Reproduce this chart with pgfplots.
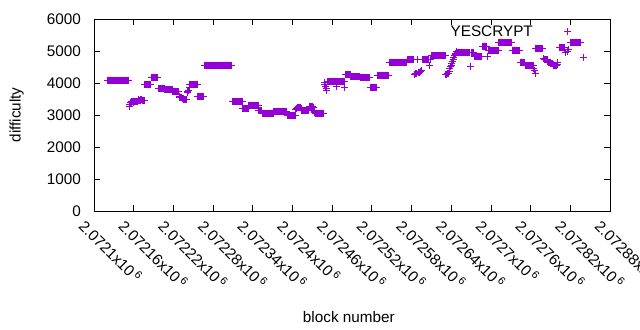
\documentclass[border=0pt]{standalone}
\usepackage{pgfplots}
\pgfplotsset{compat=1.18}
\usepackage{fontspec}
\setmainfont{Liberation Sans}
\definecolor{gpviolet}{RGB}{148,0,211}
\newcommand{\xl}[1]{#1x10\,\textsuperscript{6}}
\begin{document}
\begin{tikzpicture}[font=\fontsize{15.3bp}{18bp}\selectfont]
\begin{axis}[
  scale only axis, width=516bp, height=192bp,
  xmin=100, xmax=880, ymin=0, ymax=6000,
  axis line style={line width=0.8bp},
  tick style={line width=0.8bp, black},
  tick align=inside, tick pos=both, major tick length=6bp,
  xtick={100,160,...,880},
  xticklabels={\xl{2.0721},\xl{2.07216},\xl{2.07222},\xl{2.07228},\xl{2.07234},\xl{2.0724},\xl{2.07246},\xl{2.07252},\xl{2.07258},\xl{2.07264},\xl{2.0727},\xl{2.07276},\xl{2.07282},\xl{2.07288}},
  xticklabel style={rotate=-45, anchor=north west, inner sep=0pt, yshift=-10bp},
  ytick={0,1000,...,6000},
  yticklabels={0,1000,2000,3000,4000,5000,6000},
  yticklabel style={anchor=east, inner sep=0pt, xshift=-13bp},
  xlabel={block number},
  xlabel style={at={(axis description cs:0.494,-0.5505)}, anchor=center},
  ylabel={difficulty},
  ylabel style={at={(axis description cs:-0.1498,0.5)}, anchor=center},
  legend plot pos=right,
  legend style={at={(axis description cs:0.9254,0.9323)}, anchor=east, draw=none, fill=none, inner sep=0pt},
  legend image code/.code={\path[draw=none,fill=none] (0bp,-3.5bp) rectangle (36.5bp,3.5bp); \draw[#1] plot coordinates {(32.5bp,0bp)};},
]
\addplot[only marks, gpviolet, mark=+, mark size=3.5bp, mark options={line width=1bp}] coordinates {
(120,4090) (121,4090) (122,4090) (123,4090) (124,4090) (125,4090) (126,4090) (127,4090) (128,4090) (129,4090)
(130,4090) (131,4090) (132,4090) (133,4090) (134,4090) (135,4090) (136,4090) (137,4090) (138,4090) (139,4090)
(140,4090) (141,4090) (142,4090) (143,4090) (144,4090) (145,4090) (146,4090) (147,4090) (148,4090) (149,4090)
(150,4090) (151,4090) (152,4090)
(153,3260) (154,3330) (155,3380) (156,3400) (157,3410) (158,3420) (159,3410) (160,3400) (161,3410) (162,3420)
(163,3415) (164,3410) (165,3420) (166,3430) (167,3450) (168,3470) (169,3465) (170,3460) (171,3470) (172,3480)
(173,3465) (174,3450) (175,3455) (176,3460)
(177,3960) (178,3960) (179,3960) (180,3960) (181,3960) (182,3960) (183,3960) (184,3960) (185,3960) (186,3960)
(187,4180) (188,4180) (189,4180) (190,4180) (191,4180) (192,4180) (193,4180) (194,4180) (195,4180) (196,4180)
(197,3830) (198,3830) (199,3830) (200,3830) (201,3830) (202,3830) (203,3830) (204,3830) (205,3830) (206,3830)
(207,3800) (208,3800) (209,3800) (210,3800) (211,3800) (212,3800) (213,3800) (214,3800) (215,3800) (216,3800)
(217,3800) (218,3800)
(219,3740) (220,3740) (221,3740) (222,3740) (223,3740) (224,3740) (225,3740) (226,3740) (227,3740) (228,3740)
(229,3575) (230,3560) (231,3555) (232,3550) (233,3540) (234,3530) (235,3515) (236,3500) (237,3490) (238,3480)
(239,3490) (240,3500) (241,3700) (242,3740) (243,3780) (244,3860)
(245,3960) (246,3960) (247,3960) (248,3960) (249,3960) (250,3960) (251,3960) (252,3960) (253,3960) (254,3960)
(255,3960) (256,3960)
(257,3590) (258,3590) (259,3590) (260,3590) (261,3590) (262,3590) (263,3590) (264,3590) (265,3590) (266,3590)
(267,4560) (268,4560) (269,4560) (270,4560) (271,4560) (272,4560) (273,4560) (274,4560) (275,4560) (276,4560)
(277,4560) (278,4560) (279,4560) (280,4560) (281,4560) (282,4560) (283,4560) (284,4560) (285,4560) (286,4560)
(287,4560) (288,4560) (289,4560) (290,4560) (291,4560) (292,4560) (293,4560) (294,4560) (295,4560) (296,4560)
(297,4560) (298,4560) (299,4560) (300,4560) (301,4560) (302,4560) (303,4560) (304,4560) (305,4560) (306,4560)
(307,4560) (308,4560)
(309,3415) (310,3425) (311,3425) (312,3425) (313,3425) (314,3425) (315,3425) (316,3425) (317,3425) (318,3425)
(319,3425) (320,3425) (321,3425) (322,3425) (323,3425) (324,3425)
(325,3210) (326,3210) (327,3210) (328,3210) (329,3210) (330,3210) (331,3210) (332,3210) (333,3210)
(334,3305) (335,3305) (336,3305) (337,3305) (338,3305) (339,3305) (340,3305) (341,3305) (342,3305) (343,3305)
(344,3305) (345,3305) (346,3305) (347,3305) (348,3305)
(349,3130) (350,3130) (351,3130) (352,3130) (353,3130)
(354,3055) (355,3055) (356,3055) (357,3055) (358,3055) (359,3055) (360,3055) (361,3055) (362,3055) (363,3055)
(364,3055) (365,3055) (366,3055) (367,3055) (368,3055) (369,3055) (370,3055) (371,3055)
(372,3120) (373,3120) (374,3120) (375,3120) (376,3120) (377,3120) (378,3120) (379,3120) (380,3120) (381,3120)
(382,3120) (383,3120) (384,3120) (385,3120) (386,3120) (387,3120) (388,3120) (389,3120) (390,3120) (391,3120)
(392,2990) (393,2990) (394,2990) (395,2990) (396,2990) (397,2990) (398,2990) (399,2990) (400,2990) (401,2990)
(402,2990) (403,2990) (404,2990)
(405,3160) (406,3200) (407,3220) (408,3230) (409,3235) (410,3240) (411,3235) (412,3230) (413,3190)
(414,3155) (415,3155) (416,3155) (417,3155) (418,3155) (419,3155) (420,3155) (421,3155) (422,3155) (423,3155)
(424,3155) (425,3155)
(426,3270) (427,3275) (428,3280) (429,3270) (430,3260) (431,3255) (432,3250) (433,3100) (434,3080)
(435,3055) (436,3055) (437,3055) (438,3055) (439,3055) (440,3055) (441,3055) (442,3055) (443,3055) (444,3055)
(445,3055) (446,3055) (447,3055)
(448,3940) (449,4020) (450,3900) (451,3830) (452,3780)
(453,4040) (454,4040) (455,4040) (456,4040) (457,4040) (458,4040) (459,4040) (460,4040) (461,4040) (462,4040)
(463,4040) (464,4040) (465,4040) (466,4040) (467,3890)
(468,4040) (469,4040) (470,4040) (471,4040) (472,4040) (473,4040) (474,4040) (475,4040) (476,4040) (477,4040)
(478,4040) (479,3870)
(480,4265) (481,4265) (482,4265) (483,4265) (484,4265) (485,4265) (486,4265) (487,4265)
(488,4190) (489,4190) (490,4190) (491,4190) (492,4190) (493,4190) (494,4190) (495,4190) (496,4190) (497,4190)
(498,4190) (499,4190) (500,4190) (501,4190) (502,4190)
(503,4160) (504,4160) (505,4160) (506,4160) (507,4160) (508,4160) (509,4160) (510,4160) (511,4160) (512,4160)
(513,4160) (514,4160) (515,4160) (516,4160) (517,4160)
(518,3870) (519,3870) (520,3870) (521,3870) (522,3870) (523,3870) (524,3870) (525,3870) (526,3870) (527,3870)
(528,4245) (529,4245) (530,4245) (531,4245) (532,4245) (533,4245) (534,4245) (535,4245) (536,4245) (537,4245)
(538,4245) (539,4245) (540,4245) (541,4245) (542,4245) (543,4245) (544,4245) (545,4245)
(546,4650) (547,4650) (548,4650) (549,4650) (550,4650) (551,4650) (552,4650) (553,4650) (554,4650) (555,4650)
(556,4650) (557,4650) (558,4650) (559,4650) (560,4650) (561,4650) (562,4650) (563,4650) (564,4650) (565,4650)
(566,4650) (567,4650) (568,4650) (569,4650) (570,4650) (571,4650) (572,4650) (573,4650)
(574,4735) (575,4735) (576,4735) (577,4735) (578,4735) (579,4735) (580,4735) (581,4735) (582,4735) (583,4735)
(584,4270) (585,4280) (586,4290) (587,4295) (588,4300) (589,4740) (590,4320) (591,4330) (592,4340) (593,4350)
(594,4360) (595,4380)
(596,4740) (597,4740) (598,4740) (599,4740) (600,4740) (601,4740) (602,4740) (603,4740) (604,4740) (605,4740)
(606,4740) (607,4540) (608,4740) (609,4740)
(610,4865) (611,4865) (612,4865) (613,4865) (614,4865) (615,4865) (616,4865) (617,4865) (618,4865) (619,4865)
(620,4865) (621,4865) (622,4865) (623,4865) (624,4865) (625,4865) (626,4865) (627,4865) (628,4865) (629,4865)
(630,4865) (631,4865)
(632,4270) (633,4280) (634,4290) (635,4295) (636,4300) (637,4350) (638,4460) (639,4510) (640,4560) (641,4620)
(642,4680) (643,4740) (644,4800) (645,4850) (646,4880) (647,4930) (648,4970) (649,4950)
(650,4945) (651,4945) (652,4945) (653,4945) (654,4945) (655,4945) (656,4945) (657,4945) (658,4945) (659,4945)
(660,4945) (661,4945) (662,4945) (663,4945) (664,4945) (665,4945) (666,4945) (667,4945) (668,4945) (669,4530)
(670,4945) (671,4945) (672,4945) (673,4945) (674,4945)
(675,4840) (676,4840) (677,4840) (678,4840) (679,4840) (680,4840) (681,4840) (682,4840) (683,4840) (684,4840)
(685,4840) (686,4840)
(687,5150) (688,5150) (689,5150) (690,5150) (691,5150) (692,5150) (693,5150) (694,5150) (695,4820)
(696,5025) (697,5025) (698,5025) (699,5025) (700,5025) (701,5025) (702,5025) (703,5025) (704,5025) (705,5025)
(706,5025) (707,5025) (708,5025) (709,5025) (710,5025) (711,5025)
(712,5273) (713,5273) (714,5273) (715,5273) (716,5273) (717,5273) (718,5273) (719,5273) (720,5273) (721,5273)
(722,5273) (723,5273) (724,5273) (725,5273) (726,5273) (727,5273) (728,5273) (729,5273) (730,5273) (731,5273)
(732,5030) (733,5030) (734,5030) (735,5030) (736,5030) (737,5030) (738,5030) (739,5030) (740,5030) (741,5030)
(742,5030) (743,5030)
(744,4655) (745,4655) (746,4655) (747,4655) (748,4655) (749,4655) (750,4655) (751,4655)
(752,4550) (753,4550) (754,4550) (755,4550) (756,4550) (757,4550) (758,4550) (759,4550) (760,4550) (761,4550)
(762,4550) (763,4550) (764,4550)
(765,4440) (766,4380) (767,4310)
(768,5085) (769,5085) (770,5085) (771,5085) (772,5085) (773,5085) (774,5085) (775,5085) (776,5085) (777,5085)
(778,5085)
(779,4770) (780,4760) (781,4750) (782,4745) (783,4740) (784,4730) (785,4720) (786,4680) (787,4640) (788,4635)
(789,4630) (790,4625) (791,4620) (792,4615) (793,4610) (794,4585) (795,4560) (796,4555) (797,4550) (798,4550)
(799,4550) (800,4590) (801,4630)
(803,5125) (804,5125) (805,5125) (806,5125) (807,5125) (808,5125) (809,5125) (810,5125) (811,5125)
(813,4940) (815,4990) (817,5050)
(820,5272) (821,5272) (822,5272) (823,5272) (824,5272) (825,5272) (826,5272) (827,5272) (828,5272) (829,5272)
(830,5272) (831,5272) (832,5272) (833,5272) (834,5272) (835,5272) (836,5272)
(840,4805)
};
\addlegendentry{YESCRYPT}
\end{axis}
\pgfresetboundingbox
\useasboundingbox ([xshift=-94bp,yshift=-119bp]current axis.south west) rectangle ([xshift=30bp,yshift=19bp]current axis.north east);
\end{tikzpicture}
\end{document}
